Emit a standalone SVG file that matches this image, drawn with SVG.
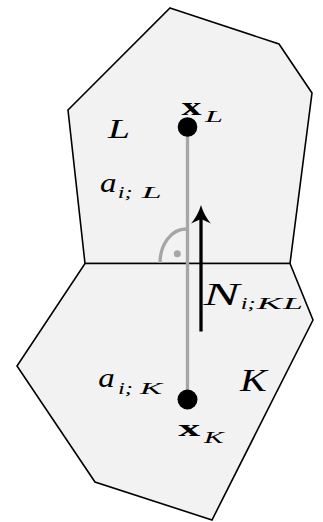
<svg xmlns="http://www.w3.org/2000/svg" width="323" height="522" viewBox="0 0 323 522">
<style>
.cell{fill:#f2f2f2;stroke:#000;stroke-width:1.6;stroke-linejoin:miter}
.it{font-family:"Liberation Serif","DejaVu Serif",serif;font-style:italic;fill:#000}
.bf{font-family:"Liberation Serif","DejaVu Serif",serif;font-weight:bold;fill:#000}
.gray{stroke:#a6a6a6;stroke-width:3.3;fill:none}
.pt{fill:#000}
</style>
<g id="cell-L">
<polygon class="cell" points="170,8 279,44 312,93 290,263.5 85,263.5 68,110"/>
<text class="it" x="108" y="138.3" font-size="27" textLength="22" lengthAdjust="spacingAndGlyphs">L</text>
</g>
<g id="cell-K">
<polygon class="cell" points="85,263.5 290,263.5 313,320 212,520 95,482 17,366"/>
<text class="it" x="240" y="390.5" font-size="32" textLength="26.7" lengthAdjust="spacingAndGlyphs">K</text>
</g>
<g id="connectors">
<line class="gray" x1="187.5" y1="127" x2="187.5" y2="399"/>
<path class="gray" stroke-width="3" d="M160,263 C160,245 171,229 186,229"/>
<circle cx="177.3" cy="253.7" r="3.5" fill="#a6a6a6"/>
<line x1="201" y1="331.5" x2="201" y2="214" stroke="#000" stroke-width="3.3"/>
<path d="M201,205 C203,212 207,219 211,223.5 L201,219 L191,223.5 C195,219 199,212 201,205 Z" fill="#000"/>
</g>
<g id="node-xL">
<circle class="pt" cx="187.5" cy="127" r="9.8"/>
<text class="bf" x="181.5" y="115" font-size="25" textLength="20" lengthAdjust="spacingAndGlyphs">x</text>
<text class="it" x="205" y="121.7" font-size="16" textLength="18" lengthAdjust="spacingAndGlyphs">L</text>
</g>
<g id="node-xK">
<circle class="pt" cx="187.5" cy="399.5" r="10"/>
<text class="bf" x="178.3" y="435.7" font-size="24" textLength="22" lengthAdjust="spacingAndGlyphs">x</text>
<text class="it" x="204" y="443.3" font-size="17" textLength="19.5" lengthAdjust="spacingAndGlyphs">K</text>
</g>
<g id="label-aL">
<text class="it" x="100" y="191.7" font-size="28" textLength="16.5" lengthAdjust="spacingAndGlyphs">a</text>
<text class="it" x="117.7" y="198.3" font-size="17" textLength="15" lengthAdjust="spacingAndGlyphs">i;</text>
<text class="it" x="141.7" y="198.3" font-size="17" textLength="20" lengthAdjust="spacingAndGlyphs">L</text>
</g>
<g id="label-aK">
<text class="it" x="98.3" y="386.7" font-size="28" textLength="16.5" lengthAdjust="spacingAndGlyphs">a</text>
<text class="it" x="118" y="393.5" font-size="17" textLength="15" lengthAdjust="spacingAndGlyphs">i;</text>
<text class="it" x="140" y="393.5" font-size="17" textLength="22" lengthAdjust="spacingAndGlyphs">K</text>
</g>
<g id="label-N">
<text class="it" x="203.5" y="304.7" font-size="32" textLength="36" lengthAdjust="spacingAndGlyphs">N</text>
<text class="it" x="240.7" y="308.7" font-size="16" textLength="15" lengthAdjust="spacingAndGlyphs">i;</text>
<text class="it" x="256.7" y="308.7" font-size="16" textLength="25" lengthAdjust="spacingAndGlyphs">K</text>
<text class="it" x="283" y="308.7" font-size="16" textLength="20" lengthAdjust="spacingAndGlyphs">L</text>
</g>
</svg>
